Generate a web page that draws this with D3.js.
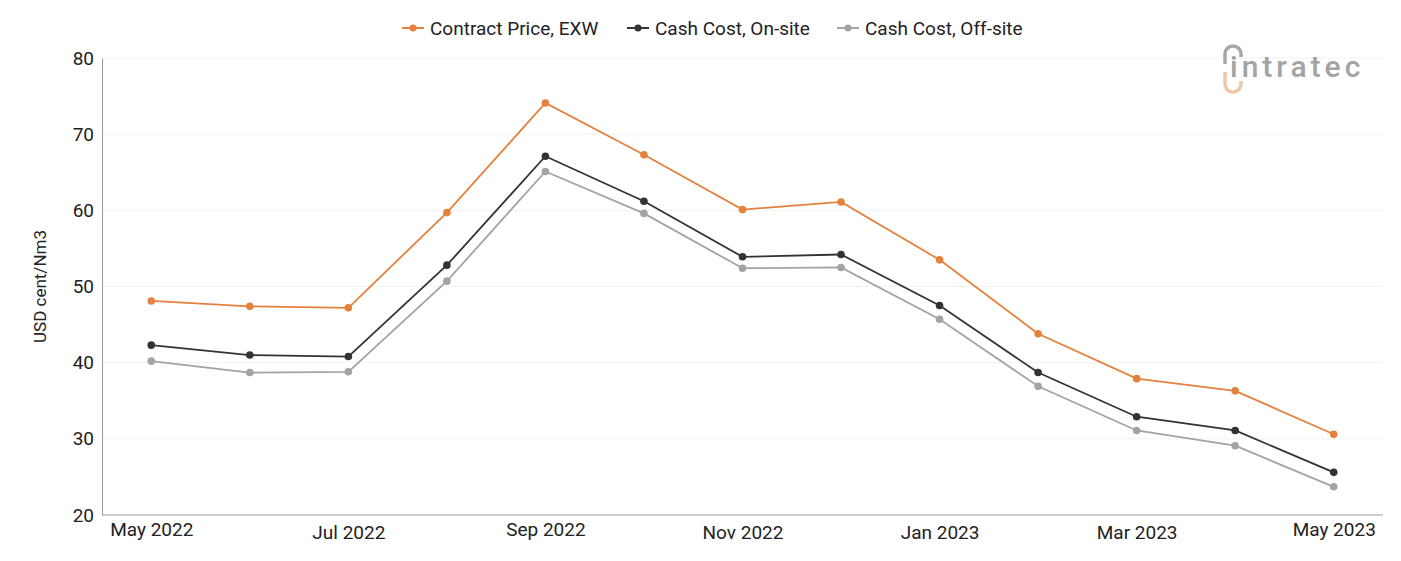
<!DOCTYPE html>
<html>
<head>
<meta charset="utf-8">
<script src="https://cdn.jsdelivr.net/npm/d3@7/dist/d3.min.js"></script>
<style>
  body { margin: 0; background: #fff; font-family: Roboto, "Noto Sans", sans-serif; }
</style>
</head>
<body>
<div id="chart"></div>
<script>
const months = ["May 2022", "Jun 2022", "Jul 2022", "Aug 2022", "Sep 2022", "Oct 2022", "Nov 2022",
  "Dec 2022", "Jan 2023", "Feb 2023", "Mar 2023", "Apr 2023", "May 2023"];
const tickLabels = ["May 2022", "Jul 2022", "Sep 2022", "Nov 2022", "Jan 2023", "Mar 2023", "May 2023"];
const contractPrice = [48.1, 47.4, 47.2, 59.7, 74.1, 67.3, 60.1, 61.1, 53.5, 43.8, 37.9, 36.3, 30.6];
const cashOnSite = [42.3, 41.0, 40.8, 52.8, 67.1, 61.2, 53.9, 54.2, 47.5, 38.7, 32.9, 31.1, 25.6];
const cashOffSite = [40.2, 38.7, 38.8, 50.7, 65.1, 59.6, 52.4, 52.5, 45.7, 36.9, 31.1, 29.1, 23.7];
const yTicks = [20, 30, 40, 50, 60, 70, 80];

const series = [
  { name: "Contract Price, EXW", values: contractPrice, color: "#e5813e" },
  { name: "Cash Cost, On-site", values: cashOnSite, color: "#333333" },
  { name: "Cash Cost, Off-site", values: cashOffSite, color: "#a3a3a3" }
];

const W = 1401, H = 561;
const margin = { top: 58, right: 18, bottom: 46, left: 102 };
const width = W - margin.left - margin.right;
const height = H - margin.top - margin.bottom;

const svg = d3.select("#chart").append("svg")
  .attr("width", W).attr("height", H);

const g = svg.append("g")
  .attr("transform", "translate(" + margin.left + "," + margin.top + ")");

const x = d3.scalePoint().domain(months).range([0, width]).padding(0.5);
const y = d3.scaleLinear().domain([20, 80]).range([height, 0]);

// gridlines
g.append("g")
  .selectAll("line")
  .data(yTicks.slice(1))
  .join("line")
  .attr("x1", 0).attr("x2", width)
  .attr("y1", d => y(d)).attr("y2", d => y(d))
  .attr("stroke", "#f2f2f2").attr("stroke-width", 1);

// y axis
const yAxis = g.append("g")
  .call(d3.axisLeft(y).tickValues(yTicks).tickSize(0).tickPadding(8));
yAxis.select(".domain").attr("stroke", "#9a9a9a");
yAxis.selectAll("text").style("font-size", "19px").attr("fill", "#222")
  .style("font-family", "Roboto, sans-serif");

// x axis
const xAxis = g.append("g")
  .attr("transform", "translate(0," + height + ")")
  .call(d3.axisBottom(x).tickValues(tickLabels).tickSize(0).tickPadding(8));
xAxis.select(".domain").attr("stroke", "#9a9a9a").attr("d", "M0,0H" + width);
xAxis.selectAll("text").style("font-size", "19px").attr("fill", "#222")
  .style("font-family", "Roboto, sans-serif")
  .attr("dy", (d, i) => (i === 0 || i === 2 || i === 6) ? "0.71em" : "0.86em");

// y label
svg.append("text")
  .attr("transform", "rotate(-90)")
  .attr("x", -(margin.top + height / 2))
  .attr("y", 46)
  .style("text-anchor", "middle")
  .style("font-size", "17px")
  .attr("fill", "#222")
  .text("USD cent/Nm3");

// lines
const line = d3.line()
  .x((d, i) => x(months[i]))
  .y(d => y(d));

series.forEach(s => {
  g.append("path")
    .datum(s.values)
    .attr("fill", "none")
    .attr("stroke", s.color)
    .attr("stroke-width", 1.8)
    .attr("d", line);
  g.append("g")
    .selectAll("circle")
    .data(s.values)
    .join("circle")
    .attr("cx", (d, i) => x(months[i]))
    .attr("cy", d => y(d))
    .attr("r", 3.8)
    .attr("fill", s.color);
});

// legend
const legendX = [402, 627, 837];
const legend = svg.append("g");
series.forEach((s, i) => {
  const lg = legend.append("g").attr("transform", "translate(" + legendX[i] + ",28)");
  lg.append("line").attr("x1", 0).attr("x2", 22).attr("y1", 0).attr("y2", 0)
    .attr("stroke", s.color).attr("stroke-width", 2);
  lg.append("circle").attr("cx", 11).attr("cy", 0).attr("r", 3.5).attr("fill", s.color);
  lg.append("text").attr("x", 28).attr("y", 0).attr("dy", "0.35em")
    .style("font-size", "19px").attr("fill", "#222").text(s.name);
});

// logo
const logo = svg.append("g").attr("transform", "translate(1222,44)");
logo.append("path")
  .attr("d", "M3,20 V10 A8,8 0 0 1 19,10 V13")
  .attr("fill", "none").attr("stroke", "#a8a8a8").attr("stroke-width", 3.5);
logo.append("path")
  .attr("d", "M3,28 V40 A8,8 0 0 0 19,40 V37")
  .attr("fill", "none").attr("stroke", "#ecc9a8").attr("stroke-width", 3.5);
logo.append("text")
  .attr("x", 8).attr("y", 33)
  .style("font-size", "30px").style("font-weight", "500")
  .style("letter-spacing", "4px")
  .style("font-family", "Roboto, sans-serif")
  .attr("fill", "#a3a3a3").text("intratec");
</script>
</body>
</html>
